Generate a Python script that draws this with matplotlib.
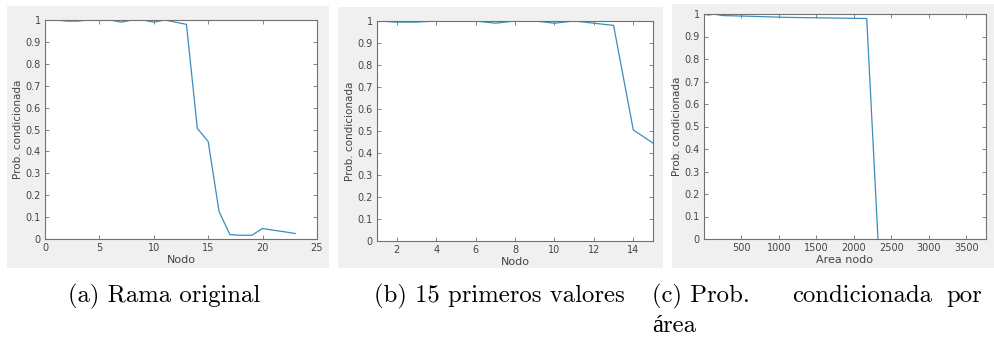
import matplotlib.pyplot as plt
from matplotlib.patches import Rectangle

# Conditional probability along the original branch (node index 1..23)
nodo = list(range(1, 24))
prob_rama = [1.0, 0.995, 0.995, 1.0, 1.0, 1.0, 0.99, 1.0, 1.0, 0.99, 1.0, 0.99,
             0.98, 0.505, 0.445, 0.125, 0.02, 0.017, 0.017, 0.048, 0.04, 0.033, 0.025]

# First 15 values of the same branch
n_primeros = 15

# Conditional probability against node area
area_nodo = [1, 60, 130, 250, 600, 1100, 1750, 2170, 2320]
prob_area = [1.0, 0.995, 1.0, 0.993, 0.99, 0.985, 0.982, 0.98, 0.0]
area_max = 3760

captions = ["(a) Rama original", "(b) 15 primeros valores"]
caption_c = ["(c) Prob.", "condicionada", "por"]
caption_c2 = "área"

W, H = 995, 338
LINE = '#3a8dbd'
SPINE = '#707070'
TXT = '#454545'
CAP_FONT = dict(family=['cmr10', 'Liberation Serif'], fontsize=17.8)


def px_rect(x0, y0, x1, y1):
    """Convert pixel box (top-left origin) to figure fraction [l, b, w, h]."""
    return [x0 / W, 1 - y1 / H, (x1 - x0) / W, (y1 - y0) / H]


def style_axes(ax, xlabel):
    ax.set_ylim(0, 1)
    ax.set_yticks([i / 10 for i in range(11)])
    ax.set_yticklabels(['0'] + [f'{i / 10:g}' for i in range(1, 10)] + ['1'])
    ax.tick_params(direction='in', length=3, width=0.6, labelsize=7,
                   colors=SPINE, labelcolor=TXT, top=True, right=True, pad=3)
    for s in ax.spines.values():
        s.set_color(SPINE)
        s.set_linewidth(0.8)
    ax.set_ylabel('Prob. condicionada', fontsize=7.5, color=TXT, labelpad=1.5)
    ax.set_xlabel(xlabel, fontsize=8, color=TXT, labelpad=1)


fig = plt.figure(figsize=(W / 100, H / 100), dpi=100)
fig.patch.set_facecolor('white')

# gray panel backgrounds, kept behind the axes
for box in [(7, 6, 329, 268), (338, 7, 663, 268), (672, 4, 995, 268)]:
    l, b, w, h = px_rect(*box)
    fig.patches.append(Rectangle((l, b), w, h, transform=fig.transFigure,
                                 facecolor='#f0f0f0', edgecolor='none', zorder=-10))

ax1 = fig.add_axes(px_rect(45, 20, 317, 239))
ax1.plot(nodo, prob_rama, color=LINE, lw=0.9)
ax1.set_xlim(0, 25)
ax1.set_xticks(range(0, 26, 5))
style_axes(ax1, 'Nodo')

ax2 = fig.add_axes(px_rect(377, 21, 653, 241))
ax2.plot(nodo[:n_primeros], prob_rama[:n_primeros], color=LINE, lw=0.9)
ax2.set_xlim(1, 15)
ax2.set_xticks(range(2, 15, 2))
style_axes(ax2, 'Nodo')

ax3 = fig.add_axes(px_rect(704, 14, 986, 239))
ax3.plot(area_nodo, prob_area, color=LINE, lw=0.9)
ax3.set_xlim(area_nodo[0], area_max)
ax3.set_xticks(range(500, 3501, 500))
style_axes(ax3, 'Area nodo')

# subfigure captions (baselines in pixels from the top)
base1 = 1 - 302 / H
base2 = 1 - 332 / H
for x, text in zip([68, 374], captions):
    fig.text(x / W, base1, text, ha='left', va='baseline', **CAP_FONT)

# caption (c) is justified over the panel width; the space after the
# period stretches more than the plain word space
left, right = 652, 982
gap_weights = [3, 1]
words = [fig.text(0, base1, w, ha='left', va='baseline', **CAP_FONT) for w in caption_c]
renderer = fig.canvas.get_renderer()
widths = [t.get_window_extent(renderer).width for t in words]
spare = right - left - sum(widths)
x = left
for i, (t, w) in enumerate(zip(words, widths)):
    t.set_x(x / W)
    if i < len(gap_weights):
        x += w + spare * gap_weights[i] / sum(gap_weights)
fig.text(left / W, base2, caption_c2, ha='left', va='baseline', **CAP_FONT)

fig.savefig('out.png', dpi=100)
